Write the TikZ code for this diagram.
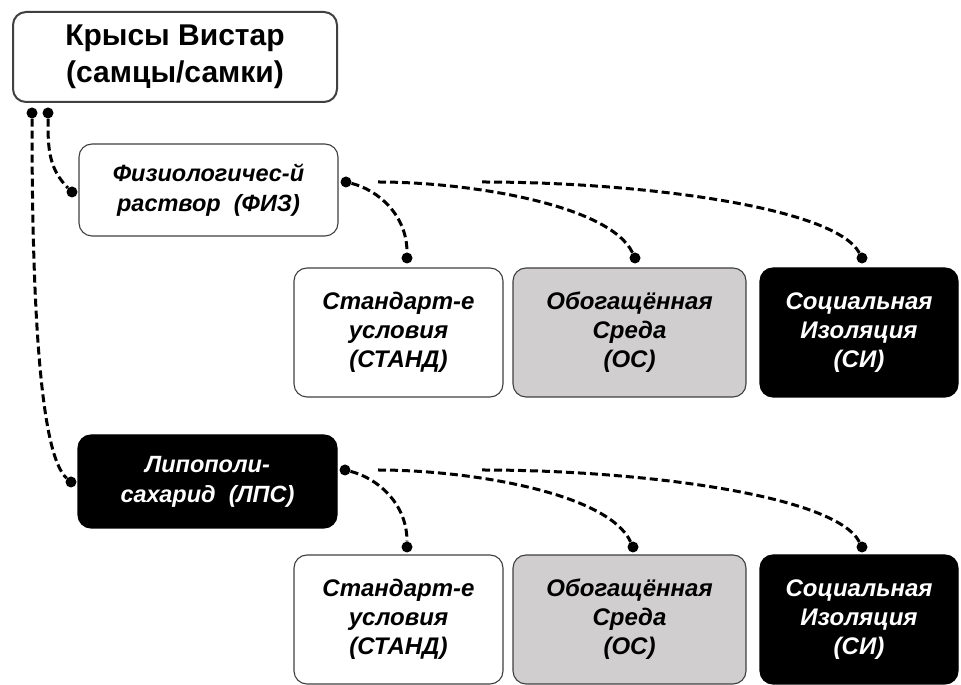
\documentclass[tikz,border=0pt]{standalone}
\usepackage{fontspec}
\setmainfont{Liberation Sans}
\usepackage{tikz}
\usetikzlibrary{arrows.meta}
\definecolor{envgray}{RGB}{208,206,206}

\begin{document}
\begin{tikzpicture}
          [x=1pt,y=1pt,
          box/.style={shape=rectangle,rounded corners=13pt,draw=black!75,line width=1.1pt,align=center,inner sep=0pt,
            font=\fontsize{24}{29}\selectfont\bfseries\itshape},
          wbox/.style={box,fill=white,text=black},
          gbox/.style={box,fill=envgray,text=black},
          bbox/.style={box,fill=black,draw=black,text=white},
          dot/.style={shape=circle,fill=black,inner sep=0pt,minimum size=11pt},
          link/.style={dashed,dash pattern=on 8pt off 4pt,line width=3pt}]

            \useasboundingbox (0,0) rectangle (961,685);

            % rats
            \node (rats) [box,line width=2pt,minimum width=324,minimum height=90,
              font=\fontsize{30}{37}\selectfont\bfseries] at (175,628) {Крысы Вистар\\(самцы/самки)};

            % injections
            \node (fiz) [wbox,minimum width=259,minimum height=92,font=\fontsize{23.5}{30}\selectfont\bfseries\itshape]
              at (208.5,495) {Физиологичес-й\\раствор~~(ФИЗ)};
            \node (lps) [bbox,minimum width=259,minimum height=93,font=\fontsize{23.5}{30}\selectfont\bfseries\itshape]
              at (207.5,203.5) {Липополи-\\сахарид~~(ЛПС)};

            % housing after saline
            \node (st1) [wbox,minimum width=209,minimum height=129] at (398.5,352.5) {Стандарт-е\\условия\\(СТАНД)};
            \node (os1) [gbox,minimum width=233,minimum height=129] at (629.5,352.5) {Обогащённая\\Среда\\(ОС)};
            \node (si1) [bbox,minimum width=198,minimum height=129] at (859,352.5) {Социальная\\Изоляция\\(СИ)};

            % housing after LPS
            \node (st2) [wbox,minimum width=209,minimum height=129] at (398.5,65.5) {Стандарт-е\\условия\\(СТАНД)};
            \node (os2) [gbox,minimum width=233,minimum height=129] at (629.5,65.5) {Обогащённая\\Среда\\(ОС)};
            \node (si2) [bbox,minimum width=198,minimum height=129] at (859,65.5) {Социальная\\Изоляция\\(СИ)};

            % dots
            \node (ra) [dot] at (32,572) {};
            \node (rb) [dot] at (48,572) {};
            \node (fl) [dot] at (72,493) {};
            \node (ll) [dot] at (71,203) {};
            \node (fr) [dot] at (346,503) {};
            \node (lr) [dot] at (345,215) {};
            \node (e11) [dot] at (407,427) {};
            \node (e12) [dot] at (635,427) {};
            \node (e13) [dot] at (862,427) {};
            \node (e21) [dot] at (407,138) {};
            \node (e22) [dot] at (633,138) {};
            \node (e23) [dot] at (862,138) {};
            \coordinate (f2) at (378,503);
            \coordinate (f3) at (482,503);
            \coordinate (l2) at (378,215);
            \coordinate (l3) at (482,215);

          \draw [link] (rb) to [out=-90,in=135] (fl);
          \draw [link] (ra) .. controls (32,380) and (40,230) .. (ll);

          \draw [link] (fr) .. controls (378,495) and (407,470) .. (e11);
          \draw [link] (f2) .. controls (470,503) and (610,480) .. (e12);
          \draw [link] (f3) .. controls (640,503) and (835,478) .. (e13);

          \draw [link] (lr) .. controls (377,207) and (407,182) .. (e21);
          \draw [link] (l2) .. controls (470,215) and (608,192) .. (e22);
          \draw [link] (l3) .. controls (640,215) and (835,190) .. (e23);

        \end{tikzpicture}
\end{document}
